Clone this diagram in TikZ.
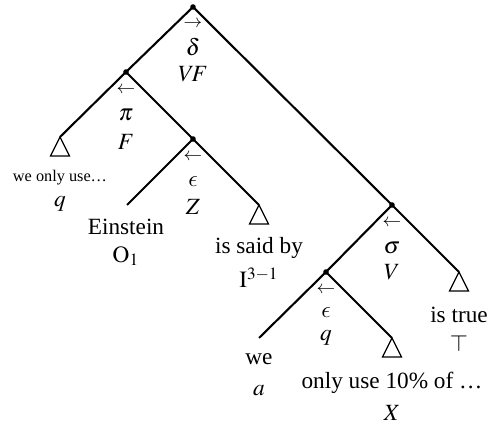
\documentclass[tikz,border=0pt]{standalone}
\usepackage{mathptmx}
\usepackage{fontspec}
\setmainfont{Liberation Serif}
\DeclareSymbolFont{cmletters}{OML}{cmm}{m}{it}
\DeclareMathSymbol{\lunateps}{\mathord}{cmletters}{"0F}

\begin{document}
\begin{tikzpicture}[x=0.43pt,y=-0.43pt,font=\normalsize,
  branch/.style={line width=0.9pt},
  knot/.style={circle,fill,inner sep=0pt,minimum size=2.4pt},
  lbl/.style={inner sep=0pt}]
  \useasboundingbox (0,0) rectangle (496,431);
  % branching points
  \foreach \n/\x/\y in {r/193/7, a/126/72, b/193/139, c/392/205, d/326/272}
    \node[knot] (\n) at (\x,\y) {};
  % ends of the branches
  \foreach \n/\x/\y in {ta/60/137, ein/127/205, tb/259/205,
    tc/459/272, we/259/338, td/392/338}
    \coordinate (\n) at (\x,\y);
  \draw[branch] (ta) -- (a.center) -- (r.center) -- (c.center) -- (tc);
  \draw[branch] (a.center) -- (b.center) -- (tb);
  \draw[branch] (b.center) -- (ein);
  \draw[branch] (we) -- (d.center) -- (td);
  \draw[branch] (c.center) -- (d.center);
  \foreach \t in {ta,tb,tc,td}
    \draw[line width=0.5pt] (\t) -- ++(-9.5,19) -- ++(19,0) -- cycle;
  % labels of the branching points
  \foreach \n/\x/\y/\t in {
    rd/193/24/{\footnotesize$\rightarrow$}, rs/193/47/$\delta$, rt/193/74/$V\!F$,
    ad/126/90/{\footnotesize$\leftarrow$}, as/126/115/$\pi$, at/126/142/$F$,
    bd/193/157/{\footnotesize$\leftarrow$}, bs/193/182/$\lunateps$, bt/193/207/$Z$,
    cd/392/223/{\footnotesize$\leftarrow$}, cs/392/248/$\sigma$, ct/392/272/$V$,
    dd/326/290/{\footnotesize$\leftarrow$}, ds/326/313/$\lunateps$, dt/326/338/$q$}
    \node[lbl] (\n) at (\x,\y) {\t};
  % labels of the leaves
  \foreach \n/\x/\y/\t in {
    law/60/178/{\scriptsize we only use\ldots}, lat/60/204/$q$,
    lew/126/227/Einstein, let/126/256/$\mathrm{O}_1$,
    lbw/259/248/is said by, lbt/259/278/$\mathrm{I}^{3-1}$,
    lcw/459/315/is true, lct/459/343/$\top$,
    lww/259/359/we, lwt/259/391/$a$,
    ldw/392/383/only use 10\% of \ldots, ldt/392/413/$X$}
    \node[lbl] (\n) at (\x,\y) {\t};
\end{tikzpicture}
\end{document}
